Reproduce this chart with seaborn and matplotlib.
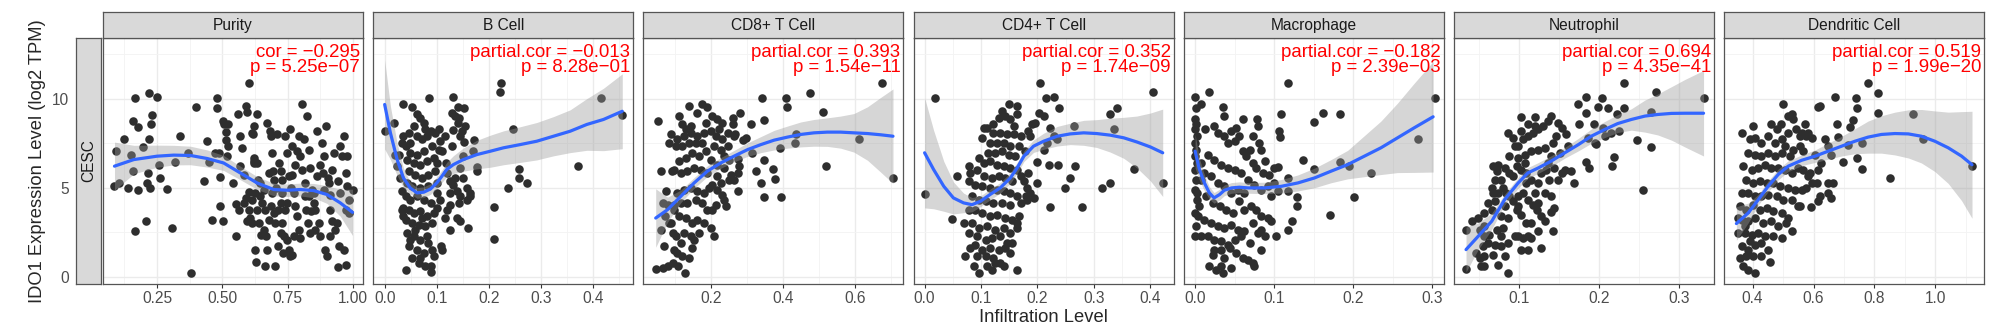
import matplotlib
matplotlib.use("Agg")
import matplotlib.pyplot as plt
from matplotlib.ticker import FixedLocator, AutoMinorLocator
import pandas as pd
import seaborn as sns

# values
cancer = "CESC"
cells = ["Purity", "B Cell", "CD8+ T Cell", "CD4+ T Cell", "Macrophage", "Neutrophil", "Dendritic Cell"]
stat_labels = [
    "cor = \u22120.295\np = 5.25e\u221207",
    "partial.cor = \u22120.013\np = 8.28e\u221201",
    "partial.cor = 0.393\np = 1.54e\u221211",
    "partial.cor = 0.352\np = 1.74e\u221209",
    "partial.cor = \u22120.182\np = 2.39e\u221203",
    "partial.cor = 0.694\np = 4.35e\u221241",
    "partial.cor = 0.519\np = 1.99e\u221220",
]
x_ticks = [
    [0.25, 0.5, 0.75, 1.0],
    [0.0, 0.1, 0.2, 0.3, 0.4],
    [0.2, 0.4, 0.6],
    [0.0, 0.1, 0.2, 0.3, 0.4],
    [0.0, 0.1, 0.2, 0.3],
    [0.1, 0.2, 0.3],
    [0.4, 0.6, 0.8, 1.0],
]
x_tick_labels = [
    ["0.25", "0.50", "0.75", "1.00"],
    ["0.0", "0.1", "0.2", "0.3", "0.4"],
    ["0.2", "0.4", "0.6"],
    ["0.0", "0.1", "0.2", "0.3", "0.4"],
    ["0.0", "0.1", "0.2", "0.3"],
    ["0.1", "0.2", "0.3"],
    ["0.4", "0.6", "0.8", "1.0"],
]
y_ticks = [0, 5, 10]
y_tick_labels = ["0", "5", "10"]

purity_pts = [
    (0.087, 5.13), (0.103, 5.28), (0.094, 7.06), (0.125, 7.77), (0.138, 5.0), (0.150, 6.87), (0.158, 5.94),
    (0.157, 8.73), (0.167, 10.02), (0.167, 2.57), (0.176, 4.87), (0.177, 8.43), (0.196, 7.30),
    (0.212, 5.28), (0.216, 5.81), (0.222, 5.0), (0.208, 3.16), (0.218, 10.34), (0.228, 8.56), (0.230, 9.08),
    (0.218, 7.72), (0.25, 10.09), (0.258, 6.31), (0.260, 5.56), (0.288, 4.94), (0.309, 2.75), (0.319, 6.48),
    (0.339, 7.90), (0.370, 6.98), (0.380, 0.22), (0.401, 9.53), (0.429, 5.41), (0.442, 7.66), (0.449, 6.46),
    (0.462, 3.20), (0.471, 6.97), (0.480, 10.02), (0.481, 9.49), (0.488, 6.98), (0.491, 5.60), (0.493, 4.01),
    (0.502, 3.16), (0.503, 8.78), (0.508, 8.60), (0.513, 8.13), (0.516, 7.68), (0.522, 8.56), (0.523, 7.34),
    (0.518, 6.78), (0.541, 5.28), (0.551, 2.32), (0.554, 4.12), (0.559, 9.16), (0.567, 7.90), (0.563, 3.78),
    (0.569, 6.22), (0.576, 7.25), (0.582, 5.75), (0.590, 9.59), (0.595, 9.25), (0.604, 10.86), (0.614, 8.09),
    (0.620, 6.69), (0.623, 6.50), (0.627, 1.54), (0.631, 0.82), (0.633, 9.12), (0.618, 8.0), (0.620, 8.46),
    (0.627, 4.72), (0.582, 4.16), (0.591, 4.44), (0.601, 3.78), (0.608, 3.31), (0.614, 3.03), (0.623, 6.40),
    (0.633, 6.40), (0.636, 5.47), (0.643, 5.28), (0.646, 4.53), (0.652, 4.16), (0.659, 4.91), (0.665, 3.78),
    (0.671, 8.65), (0.671, 1.54), (0.663, 0.60), (0.678, 5.84), (0.684, 8.18), (0.687, 7.90), (0.691, 6.97),
    (0.694, 5.94), (0.697, 5.47), (0.595, 3.13), (0.601, 4.78), (0.614, 4.34), (0.633, 3.78), (0.640, 3.03),
    (0.648, 2.38), (0.659, 2.66), (0.669, 2.28), (0.678, 3.22), (0.687, 3.97), (0.692, 4.72), (0.697, 3.60),
    (0.703, 0.60), (0.710, 8.0), (0.716, 6.40), (0.723, 5.94), (0.729, 3.03), (0.735, 2.28), (0.742, 7.90),
    (0.748, 6.97), (0.754, 5.66), (0.761, 8.28), (0.767, 7.34), (0.763, 4.97), (0.774, 4.72), (0.780, 3.97),
    (0.786, 3.41), (0.793, 2.66), (0.799, 2.19), (0.806, 9.68), (0.812, 7.72), (0.818, 5.28), (0.825, 9.03),
    (0.754, 1.54), (0.761, 1.16), (0.767, 1.25), (0.774, 2.28), (0.712, 1.72), (0.723, 4.16), (0.729, 4.72),
    (0.748, 4.16), (0.703, 3.03), (0.723, 2.47), (0.742, 3.78), (0.799, 6.78), (0.806, 6.03), (0.793, 7.90),
    (0.786, 7.06), (0.780, 6.31), (0.767, 5.75), (0.815, 4.53), (0.822, 3.78), (0.827, 3.03), (0.748, 2.10),
    (0.733, 1.35), (0.712, 3.78), (0.729, 5.47), (0.707, 5.0),
    (0.831, 7.15), (0.837, 6.12), (0.844, 4.91), (0.850, 4.16), (0.857, 3.78), (0.863, 8.18), (0.869, 3.03),
    (0.876, 2.28), (0.882, 7.53), (0.891, 6.78), (0.895, 1.54), (0.899, 8.46), (0.904, 5.56), (0.912, 4.62),
    (0.914, 3.78), (0.920, 3.13), (0.901, 1.16), (0.837, 2.47), (0.850, 4.72), (0.863, 5.66), (0.876, 6.31),
    (0.885, 5.84), (0.889, 4.91), (0.908, 5.28), (0.920, 6.03), (0.927, 6.97), (0.831, 4.53), (0.841, 3.69),
    (0.857, 2.66), (0.914, 2.28),
    (0.933, 2.66), (0.942, 5.41), (0.950, 4.72), (0.952, 7.34), (0.959, 6.78), (0.965, 7.90), (0.972, 3.78),
    (0.978, 5.09), (0.984, 4.34), (0.940, 3.03), (0.946, 1.72), (0.965, 1.54), (0.972, 0.69), (0.942, 0.56),
    (0.978, 6.78), (0.984, 3.60), (0.999, 4.87), (0.975, 5.84),
]

bcell_pts = [
    (0.0, 8.22), (0.020, 6.87), (0.017, 8.65), (0.035, 9.68), (0.052, 9.55), (0.086, 10.04), (0.131, 10.09),
    (0.140, 9.53), (0.153, 9.51), (0.129, 9.21), (0.135, 9.03), (0.140, 8.65), (0.155, 8.50), (0.132, 8.24),
    (0.145, 7.90), (0.153, 7.57), (0.171, 7.71), (0.169, 7.06), (0.177, 6.18), (0.177, 5.94), (0.224, 10.86),
    (0.222, 10.37), (0.246, 8.28), (0.258, 6.07), (0.257, 5.56), (0.274, 5.28), (0.236, 5.0), (0.210, 3.93),
    (0.210, 2.13), (0.372, 6.25), (0.415, 10.06), (0.456, 9.10),
    (0.107, 7.62), (0.110, 7.06), (0.118, 6.40), (0.119, 5.84), (0.125, 5.37), (0.132, 5.19), (0.139, 4.81),
    (0.145, 4.53), (0.151, 5.56), (0.158, 5.0), (0.164, 4.72), (0.164, 4.53), (0.158, 4.34), (0.142, 4.16),
    (0.126, 4.06), (0.119, 3.78), (0.116, 3.31), (0.126, 2.66), (0.139, 3.31), (0.145, 3.13), (0.159, 2.75),
    (0.108, 1.72), (0.110, 1.54), (0.091, 1.54), (0.094, 1.16), (0.088, 0.60), (0.126, 4.72), (0.135, 5.56),
    (0.144, 6.12), (0.151, 6.78), (0.129, 7.34), (0.116, 7.90), (0.142, 8.93), (0.148, 8.18),
    (0.062, 9.12), (0.068, 8.93), (0.075, 8.65), (0.078, 8.28), (0.056, 8.46), (0.046, 8.09), (0.036, 7.90),
    (0.033, 7.53), (0.040, 7.34), (0.049, 7.53), (0.062, 7.90), (0.071, 7.72), (0.081, 7.90), (0.088, 8.18),
    (0.097, 8.09), (0.104, 8.28), (0.091, 7.34), (0.075, 7.06), (0.062, 6.87), (0.049, 6.97), (0.043, 6.59),
    (0.056, 6.40), (0.068, 6.31), (0.081, 6.50), (0.094, 6.69), (0.100, 6.40), (0.104, 7.15), (0.046, 5.97),
    (0.059, 5.75), (0.071, 5.56), (0.084, 5.75), (0.097, 5.94), (0.043, 5.28), (0.052, 5.09), (0.068, 5.0),
    (0.084, 5.13), (0.100, 5.28), (0.040, 4.53), (0.049, 4.34), (0.062, 4.53), (0.075, 4.34), (0.088, 4.16),
    (0.100, 4.72), (0.036, 3.88), (0.046, 3.78), (0.056, 3.60), (0.068, 3.69), (0.081, 3.41), (0.094, 3.60),
    (0.040, 3.22), (0.052, 3.03), (0.065, 2.94), (0.078, 2.85), (0.091, 3.03), (0.043, 2.47), (0.056, 2.28),
    (0.068, 2.10), (0.081, 2.28), (0.046, 1.72), (0.062, 1.54), (0.075, 1.35), (0.084, 1.91), (0.052, 1.06),
    (0.065, 0.79), (0.078, 0.60), (0.040, 0.41), (0.088, 0.26), (0.068, 1.06), (0.059, 2.66), (0.049, 2.10),
    (0.072, 3.31), (0.036, 3.41), (0.100, 3.88), (0.033, 3.78), (0.107, 4.34), (0.027, 6.87), (0.024, 6.22),
    (0.030, 5.56), (0.033, 4.81),
]

cd8_pts = [
    (0.052, 8.75), (0.061, 5.94), (0.073, 4.81), (0.089, 5.94), (0.066, 4.16), (0.078, 4.06), (0.070, 3.41),
    (0.082, 3.03), (0.059, 2.66), (0.068, 1.72), (0.066, 0.51), (0.045, 0.47), (0.078, 0.64), (0.092, 0.79),
    (0.107, 0.64), (0.127, 0.22), (0.096, 1.54), (0.105, 1.35), (0.119, 1.16), (0.138, 1.07), (0.145, 1.63),
    (0.115, 1.91), (0.101, 2.28), (0.092, 2.47), (0.124, 2.47), (0.143, 2.28), (0.152, 2.10), (0.166, 2.47),
    (0.087, 3.03), (0.110, 3.41), (0.129, 3.31), (0.147, 3.03), (0.161, 3.22), (0.180, 3.03), (0.198, 2.75),
    (0.208, 2.28), (0.189, 3.78), (0.175, 4.16), (0.157, 4.34), (0.133, 4.16), (0.115, 4.16), (0.096, 3.78),
    (0.105, 4.72), (0.124, 4.91), (0.143, 5.0), (0.161, 4.81), (0.180, 4.72), (0.194, 5.0), (0.203, 5.19),
    (0.217, 4.91), (0.231, 4.63), (0.236, 4.34), (0.212, 4.06), (0.240, 3.97), (0.203, 3.78), (0.226, 5.28),
    (0.249, 5.47), (0.263, 5.47), (0.217, 5.66), (0.189, 5.84), (0.170, 6.03), (0.152, 6.12), (0.133, 5.94),
    (0.115, 5.84), (0.096, 6.03), (0.110, 6.50), (0.129, 6.69), (0.147, 6.97), (0.166, 6.78), (0.184, 7.06),
    (0.198, 6.59), (0.217, 6.31), (0.236, 6.78), (0.245, 7.34), (0.231, 7.72), (0.212, 7.90), (0.198, 8.18),
    (0.180, 8.09), (0.161, 7.90), (0.143, 8.09), (0.124, 7.90), (0.105, 7.72), (0.087, 8.0), (0.082, 7.53),
    (0.101, 7.34), (0.119, 7.34), (0.138, 7.53), (0.157, 7.53), (0.175, 7.53), (0.208, 7.34), (0.226, 7.15),
    (0.143, 8.46), (0.129, 8.28), (0.119, 8.56), (0.110, 9.03), (0.138, 9.59), (0.161, 9.21), (0.175, 9.68),
    (0.189, 9.55), (0.184, 8.65), (0.203, 9.03), (0.217, 8.84), (0.231, 8.65), (0.222, 8.28), (0.245, 8.09),
    (0.259, 8.56), (0.263, 7.90), (0.249, 6.59), (0.236, 6.12), (0.096, 4.06),
    (0.674, 10.90), (0.706, 5.56), (0.612, 7.72), (0.519, 6.25), (0.510, 9.25), (0.475, 10.34), (0.407, 10.06),
    (0.412, 9.53), (0.435, 8.03), (0.432, 7.53), (0.391, 7.25), (0.342, 10.02), (0.348, 8.80), (0.310, 8.61),
    (0.280, 9.18), (0.347, 6.59), (0.324, 5.97), (0.372, 6.07), (0.376, 5.51), (0.339, 5.28), (0.347, 4.49),
    (0.393, 4.49), (0.278, 6.22), (0.275, 6.65), (0.296, 7.81), (0.288, 7.68), (0.266, 8.03), (0.273, 5.84),
    (0.275, 4.85), (0.254, 5.75), (0.259, 8.93), (0.312, 6.97),
]

cd4_pts = [
    (0.149, 9.68), (0.163, 9.59), (0.137, 9.31), (0.131, 8.93), (0.143, 9.03), (0.152, 8.84), (0.158, 8.46),
    (0.164, 9.12), (0.122, 8.61), (0.111, 8.37), (0.105, 8.37), (0.122, 8.09), (0.134, 8.09), (0.146, 8.0),
    (0.158, 8.0), (0.170, 7.90), (0.102, 7.81), (0.116, 7.53), (0.128, 7.53), (0.140, 7.53), (0.152, 7.34),
    (0.167, 7.34), (0.178, 7.06), (0.187, 7.90), (0.190, 8.56), (0.184, 8.18), (0.196, 8.65), (0.113, 6.97),
    (0.125, 6.97), (0.137, 7.06), (0.149, 6.87), (0.161, 6.78), (0.096, 6.69), (0.105, 6.40), (0.116, 6.50),
    (0.128, 6.31), (0.140, 6.22), (0.152, 6.12), (0.164, 6.03), (0.081, 5.84), (0.093, 6.03), (0.105, 5.66),
    (0.119, 5.56), (0.131, 5.66), (0.143, 5.56), (0.155, 5.37), (0.170, 5.66), (0.078, 5.37), (0.090, 5.19),
    (0.102, 5.09), (0.116, 5.0), (0.128, 4.91), (0.140, 4.81), (0.152, 4.72), (0.164, 4.53), (0.179, 4.53),
    (0.084, 4.53), (0.096, 4.34), (0.108, 4.25), (0.122, 4.16), (0.137, 4.16), (0.152, 4.06), (0.078, 3.78),
    (0.090, 3.78), (0.102, 3.60), (0.116, 3.41), (0.128, 3.50), (0.143, 3.31), (0.155, 3.22), (0.069, 3.03),
    (0.084, 3.03), (0.096, 2.75), (0.111, 2.85), (0.125, 2.66), (0.140, 2.75), (0.152, 2.47), (0.164, 2.75),
    (0.078, 2.47), (0.093, 2.28), (0.108, 2.10), (0.119, 2.19), (0.134, 2.28), (0.146, 1.91), (0.090, 1.82),
    (0.102, 1.54), (0.116, 1.63), (0.131, 1.54), (0.143, 1.63), (0.081, 1.63), (0.093, 1.16), (0.108, 1.16),
    (0.122, 1.07), (0.134, 0.79), (0.087, 0.60), (0.096, 0.22), (0.111, 0.60), (0.125, 0.79), (0.140, 0.60),
    (0.119, 0.41),
    (0.0, 4.68), (0.019, 10.02), (0.048, 3.26), (0.057, 5.66), (0.078, 6.22), (0.072, 1.20), (0.205, 10.86),
    (0.216, 10.02), (0.229, 10.09), (0.239, 9.49), (0.202, 9.21), (0.211, 9.03), (0.223, 8.37), (0.235, 7.72),
    (0.199, 6.44), (0.220, 6.31), (0.237, 6.31), (0.267, 6.25), (0.258, 5.56), (0.249, 5.0), (0.223, 3.93),
    (0.279, 3.93), (0.314, 5.0), (0.328, 5.28), (0.328, 9.12), (0.341, 9.49), (0.335, 8.28), (0.372, 6.07),
    (0.405, 10.37), (0.422, 5.28), (0.264, 8.46), (0.184, 5.84), (0.176, 5.37), (0.181, 4.97), (0.187, 4.72),
    (0.181, 4.34), (0.170, 4.16), (0.167, 3.41), (0.164, 3.03), (0.163, 0.41), (0.155, 1.91), (0.152, 1.35),
    (0.193, 4.44), (0.199, 5.28), (0.211, 7.15), (0.217, 7.53), (0.229, 7.90),
]

macro_pts = [
    (0.0, 8.84), (0.001, 8.56), (0.0, 8.28), (0.002, 7.90), (0.0, 7.53), (0.001, 7.15), (0.0, 6.78),
    (0.002, 6.40), (0.0, 6.03), (0.001, 5.47), (0.0, 4.91), (0.002, 4.34), (0.0, 3.60), (0.001, 2.85),
    (0.0, 2.28), (0.003, 4.72),
    (0.012, 8.28), (0.024, 8.46), (0.029, 8.09), (0.037, 7.90), (0.041, 7.53), (0.050, 7.62), (0.056, 7.90),
    (0.060, 8.84), (0.052, 8.37), (0.046, 8.18), (0.073, 7.90), (0.081, 7.53), (0.083, 7.15), (0.078, 8.84),
    (0.079, 8.46), (0.060, 7.06), (0.064, 6.78), (0.069, 7.15), (0.073, 6.40), (0.077, 6.12), (0.086, 5.84),
    (0.094, 5.75), (0.088, 6.50), (0.100, 5.28), (0.092, 5.09), (0.083, 4.91), (0.075, 5.19), (0.067, 5.47),
    (0.058, 5.84), (0.050, 6.03), (0.041, 6.12), (0.033, 6.31), (0.024, 6.59), (0.016, 6.87), (0.0076, 6.40),
    (0.0118, 5.84), (0.020, 5.66), (0.029, 5.28), (0.037, 5.09), (0.046, 4.72), (0.054, 4.91), (0.062, 4.72),
    (0.0076, 5.47), (0.014, 4.53), (0.022, 4.16), (0.031, 3.97), (0.039, 3.78), (0.048, 3.60), (0.056, 4.25),
    (0.062, 3.78), (0.071, 3.97), (0.077, 3.78), (0.083, 3.41), (0.092, 3.31), (0.096, 3.13), (0.0055, 3.97),
    (0.0034, 3.41), (0.0118, 3.22), (0.020, 3.03), (0.029, 2.85), (0.037, 2.75), (0.046, 2.94), (0.054, 2.66),
    (0.062, 2.57), (0.073, 3.03), (0.083, 2.66), (0.0076, 2.28), (0.016, 2.28), (0.024, 2.10), (0.033, 2.00),
    (0.041, 1.82), (0.050, 2.10), (0.058, 2.28), (0.069, 1.91), (0.079, 2.47), (0.088, 2.28), (0.024, 1.54),
    (0.033, 1.54), (0.044, 1.63), (0.052, 1.35), (0.067, 0.97), (0.073, 0.79), (0.083, 1.54), (0.022, 1.25),
    (0.018, 0.60), (0.027, 0.41), (0.035, 0.22), (0.046, 0.51), (0.033, 0.60), (0.037, 1.07), (0.060, 1.07),
    (0.075, 0.60),
    (0.017, 10.37), (0.0, 10.09), (0.001, 9.49), (0.008, 9.68), (0.035, 9.55), (0.036, 9.06), (0.118, 10.86),
    (0.109, 9.16), (0.150, 8.71), (0.162, 9.21), (0.183, 9.12), (0.106, 8.18), (0.107, 7.85), (0.137, 6.55),
    (0.150, 6.07), (0.183, 6.44), (0.194, 6.25), (0.222, 5.84), (0.282, 7.72), (0.303, 10.02), (0.201, 4.49),
    (0.170, 3.50), (0.129, 4.49), (0.129, 4.01), (0.123, 3.13), (0.117, 2.66), (0.102, 2.32), (0.100, 6.12),
    (0.105, 6.16), (0.117, 5.56), (0.117, 4.81), (0.105, 4.81), (0.096, 4.53),
]

neutro_pts = [
    (0.034, 0.47), (0.034, 2.66), (0.041, 3.13), (0.047, 1.35), (0.051, 1.07), (0.053, 0.60), (0.057, 0.60),
    (0.055, 1.72), (0.061, 1.91), (0.063, 2.38), (0.057, 2.85), (0.051, 2.66), (0.049, 3.31), (0.057, 3.60),
    (0.066, 3.78), (0.061, 4.16), (0.070, 4.25), (0.074, 4.72), (0.068, 4.72), (0.066, 5.0), (0.070, 5.47),
    (0.072, 5.94), (0.068, 6.22), (0.074, 6.31), (0.082, 6.12), (0.078, 5.47), (0.080, 5.0), (0.084, 4.72),
    (0.088, 4.53), (0.082, 3.97), (0.078, 3.41), (0.086, 3.31), (0.080, 2.75), (0.072, 2.66), (0.070, 1.82),
    (0.078, 1.72), (0.082, 1.16), (0.068, 1.25), (0.095, 2.28), (0.099, 2.28), (0.105, 2.19), (0.111, 2.28),
    (0.115, 2.19), (0.124, 2.57), (0.109, 3.03), (0.103, 3.50), (0.097, 3.78), (0.092, 4.25), (0.099, 4.53),
    (0.105, 4.72), (0.111, 4.34), (0.117, 4.06), (0.122, 3.78), (0.128, 3.41), (0.132, 3.13), (0.120, 4.72),
    (0.124, 5.28), (0.115, 5.47), (0.109, 5.84), (0.103, 6.03), (0.097, 6.22), (0.092, 5.66), (0.088, 5.84),
    (0.099, 6.69), (0.107, 6.87), (0.115, 7.06), (0.124, 7.15), (0.132, 7.25), (0.099, 7.34), (0.105, 7.72),
    (0.111, 7.90), (0.117, 8.09), (0.124, 8.28), (0.130, 8.46), (0.136, 8.75), (0.111, 8.56), (0.120, 8.46),
    (0.103, 8.18), (0.092, 7.81), (0.095, 7.34), (0.107, 6.40), (0.128, 5.84), (0.134, 6.03), (0.138, 5.47),
    (0.132, 4.72), (0.124, 4.16), (0.140, 4.53), (0.115, 3.03), (0.103, 1.54), (0.111, 1.54), (0.078, 2.28),
    (0.057, 1.16), (0.099, 3.97), (0.109, 5.28), (0.136, 6.40), (0.140, 6.78), (0.144, 6.12), (0.149, 5.47),
    (0.153, 5.84), (0.146, 7.90), (0.142, 7.53), (0.151, 6.97), (0.057, 2.28), (0.086, 1.91),
    (0.231, 10.86), (0.271, 10.37), (0.331, 10.02), (0.183, 10.09), (0.203, 10.02), (0.174, 9.68), (0.198, 9.53),
    (0.211, 9.49), (0.231, 9.49), (0.184, 9.18), (0.222, 9.12), (0.264, 9.25), (0.175, 8.56), (0.194, 8.61),
    (0.205, 8.37), (0.215, 8.09), (0.224, 8.18), (0.247, 7.68), (0.265, 7.28), (0.219, 6.74), (0.216, 6.25),
    (0.184, 6.44), (0.187, 6.12), (0.255, 4.87), (0.196, 7.49), (0.207, 7.90), (0.195, 7.53), (0.186, 7.81),
    (0.157, 6.03), (0.165, 5.94), (0.169, 5.28), (0.149, 8.65), (0.140, 9.03), (0.153, 8.37), (0.159, 8.0),
    (0.161, 7.34), (0.144, 3.88), (0.142, 2.57), (0.140, 3.65), (0.128, 1.63), (0.103, 9.0), (0.120, 8.97),
    (0.086, 8.09), (0.088, 6.78), (0.074, 0.69), (0.086, 0.22),
]

dendritic_pts = [
    (0.364, 8.09), (0.402, 8.46), (0.391, 7.72), (0.408, 7.81), (0.429, 7.53), (0.451, 7.90), (0.462, 8.56),
    (0.479, 8.28), (0.493, 8.61), (0.501, 9.68), (0.517, 9.03), (0.528, 9.12), (0.533, 8.84), (0.544, 8.28),
    (0.561, 8.09), (0.572, 8.56), (0.577, 7.90), (0.555, 7.90), (0.517, 8.09), (0.495, 7.72), (0.473, 7.53),
    (0.506, 7.34), (0.533, 7.15), (0.555, 7.34), (0.566, 7.06), (0.522, 6.78), (0.495, 6.97), (0.473, 6.78),
    (0.451, 6.97), (0.429, 6.78), (0.408, 6.87), (0.386, 6.97), (0.369, 6.22), (0.397, 6.03), (0.419, 6.12),
    (0.440, 6.31), (0.462, 6.12), (0.484, 6.12), (0.506, 6.03), (0.528, 5.84), (0.550, 6.12), (0.566, 6.03),
    (0.583, 5.66), (0.380, 5.47), (0.402, 5.28), (0.424, 5.37), (0.446, 5.28), (0.468, 5.28), (0.490, 5.09),
    (0.517, 5.0), (0.539, 4.91), (0.561, 4.91), (0.577, 5.0), (0.364, 4.72), (0.386, 4.72), (0.408, 4.53),
    (0.429, 4.53), (0.451, 4.63), (0.479, 4.53), (0.501, 4.34), (0.528, 4.34), (0.550, 3.97), (0.358, 3.97),
    (0.380, 3.78), (0.402, 4.06), (0.424, 3.78), (0.446, 3.88), (0.468, 3.69), (0.495, 3.60), (0.517, 3.31),
    (0.364, 3.22), (0.386, 3.13), (0.408, 3.31), (0.435, 3.03), (0.462, 3.13), (0.484, 2.85), (0.511, 3.03),
    (0.528, 2.57), (0.353, 2.47), (0.375, 2.47), (0.397, 2.38), (0.419, 2.47), (0.440, 2.28), (0.468, 2.28),
    (0.495, 2.19), (0.451, 1.54), (0.364, 1.72), (0.386, 1.54), (0.408, 1.82), (0.429, 1.91), (0.380, 1.16),
    (0.402, 1.16), (0.358, 1.07), (0.369, 0.60), (0.386, 0.41), (0.408, 0.22), (0.457, 0.82), (0.429, 1.16),
    (0.391, 2.00), (0.375, 2.85), (0.353, 3.31),
    (0.779, 10.86), (0.810, 10.34), (0.810, 9.21), (0.739, 10.02), (0.743, 9.49), (0.670, 10.09), (0.615, 9.53),
    (0.621, 9.59), (0.676, 8.60), (0.719, 8.41), (0.730, 8.80), (0.681, 7.87), (0.758, 7.53), (0.697, 6.44),
    (0.744, 6.69), (0.760, 6.07), (0.928, 9.12), (0.959, 7.72), (0.851, 5.56), (1.120, 6.25), (0.714, 7.43),
    (0.637, 7.72), (0.648, 7.34), (0.659, 6.87), (0.626, 6.40), (0.615, 6.03), (0.588, 5.84), (0.594, 5.28),
    (0.610, 5.28), (0.648, 5.28), (0.665, 5.28), (0.648, 4.72), (0.659, 4.44), (0.621, 4.53), (0.615, 4.25),
    (0.591, 3.93), (0.555, 3.97), (0.605, 6.87), (0.594, 7.81), (0.583, 8.09),
]

# loess fit with its confidence band (x, fit, half width)
purity_fit_x = [0.087, 0.161, 0.25, 0.314, 0.378, 0.442, 0.505, 0.569, 0.633, 0.697, 0.748, 0.799, 0.850, 0.901, 0.952, 0.999]
purity_fit_y = [6.22, 6.59, 6.78, 6.84, 6.82, 6.65, 6.40, 5.84, 5.28, 4.91, 4.87, 4.91, 4.85, 4.63, 4.16, 3.63]
purity_fit_se = [1.35, 0.8, 0.62, 0.55, 0.52, 0.48, 0.42, 0.38, 0.36, 0.35, 0.35, 0.36, 0.40, 0.50, 0.75, 1.30]

bcell_fit_x = [0, 0.011, 0.024, 0.036, 0.049, 0.062, 0.075, 0.088, 0.100, 0.110, 0.119, 0.132, 0.151, 0.177, 0.203, 0.228, 0.260, 0.292, 0.324, 0.356, 0.388, 0.420, 0.456]
bcell_fit_y = [9.68, 8.09, 6.59, 5.56, 5.0, 4.72, 4.76, 4.94, 5.28, 5.66, 6.03, 6.31, 6.59, 6.87, 7.06, 7.25, 7.43, 7.62, 7.90, 8.18, 8.56, 8.84, 9.30]
bcell_fit_se = [2.5, 1.5, 0.9, 0.55, 0.32, 0.3, 0.3, 0.3, 0.32, 0.35, 0.4, 0.5, 0.65, 0.8, 0.9, 0.95, 1.0, 1.05, 1.1, 1.2, 1.45, 1.75, 2.1]

cd8_fit_x = [0.045, 0.078, 0.115, 0.152, 0.189, 0.226, 0.263, 0.301, 0.338, 0.375, 0.412, 0.449, 0.486, 0.523, 0.560, 0.597, 0.635, 0.672, 0.706]
cd8_fit_y = [3.31, 3.78, 4.53, 5.28, 5.94, 6.40, 6.78, 7.15, 7.43, 7.68, 7.85, 8.0, 8.09, 8.13, 8.13, 8.09, 8.05, 7.98, 7.90]
cd8_fit_se = [1.64, 0.7, 0.35, 0.3, 0.3, 0.3, 0.32, 0.38, 0.45, 0.55, 0.62, 0.7, 0.75, 0.8, 0.9, 1.08, 1.5, 2.1, 2.65]

cd4_fit_x = [0, 0.016, 0.034, 0.051, 0.069, 0.084, 0.099, 0.116, 0.134, 0.152, 0.164, 0.176, 0.193, 0.211, 0.235, 0.258, 0.282, 0.305, 0.329, 0.353, 0.376, 0.400, 0.422]
cd4_fit_y = [6.97, 6.03, 5.09, 4.44, 4.16, 4.06, 4.25, 4.63, 5.0, 5.56, 6.12, 6.78, 7.34, 7.62, 7.90, 8.03, 8.09, 8.05, 7.96, 7.81, 7.58, 7.30, 6.97]
cd4_fit_se = [3.09, 2.2, 1.4, 0.9, 0.55, 0.4, 0.3, 0.3, 0.3, 0.3, 0.3, 0.3, 0.35, 0.45, 0.55, 0.6, 0.7, 0.78, 0.95, 1.15, 1.45, 1.9, 2.45]

macro_fit_x = [0, 0.0055, 0.0118, 0.018, 0.024, 0.031, 0.037, 0.046, 0.056, 0.067, 0.088, 0.109, 0.130, 0.151, 0.172, 0.193, 0.214, 0.235, 0.256, 0.277, 0.301]
macro_fit_y = [7.06, 6.03, 5.28, 4.72, 4.44, 4.63, 4.87, 5.0, 5.04, 5.0, 5.0, 5.09, 5.28, 5.56, 5.94, 6.31, 6.78, 7.25, 7.81, 8.37, 8.99]
macro_fit_se = [0.94, 0.6, 0.45, 0.35, 0.3, 0.3, 0.3, 0.3, 0.3, 0.3, 0.32, 0.38, 0.45, 0.55, 0.65, 0.8, 1.15, 1.5, 1.95, 2.5, 3.1]

neutro_fit_x = [0.034, 0.049, 0.066, 0.082, 0.099, 0.111, 0.124, 0.140, 0.157, 0.174, 0.190, 0.207, 0.223, 0.240, 0.257, 0.273, 0.290, 0.307, 0.330]
neutro_fit_y = [1.54, 2.28, 3.13, 4.34, 5.28, 5.84, 6.12, 6.50, 6.97, 7.43, 7.90, 8.28, 8.61, 8.84, 9.03, 9.12, 9.18, 9.19, 9.19]
neutro_fit_se = [1.26, 0.75, 0.45, 0.3, 0.3, 0.3, 0.3, 0.3, 0.3, 0.35, 0.4, 0.45, 0.5, 0.6, 0.9, 1.15, 1.5, 1.9, 2.4]

dendritic_fit_x = [0.347, 0.386, 0.419, 0.451, 0.484, 0.517, 0.561, 0.605, 0.648, 0.692, 0.736, 0.779, 0.823, 0.867, 0.911, 0.954, 0.998, 1.042, 1.086, 1.120]
dendritic_fit_y = [3.0, 3.60, 4.34, 5.09, 5.75, 6.22, 6.55, 6.78, 7.06, 7.34, 7.62, 7.85, 8.0, 8.05, 8.03, 7.90, 7.62, 7.25, 6.78, 6.30]
dendritic_fit_se = [0.94, 0.55, 0.3, 0.3, 0.3, 0.3, 0.3, 0.35, 0.45, 0.55, 0.7, 0.9, 1.05, 1.2, 1.35, 1.5, 1.7, 2.0, 2.5, 3.0]

points = [purity_pts, bcell_pts, cd8_pts, cd4_pts, macro_pts, neutro_pts, dendritic_pts]
fits = [
    (purity_fit_x, purity_fit_y, purity_fit_se),
    (bcell_fit_x, bcell_fit_y, bcell_fit_se),
    (cd8_fit_x, cd8_fit_y, cd8_fit_se),
    (cd4_fit_x, cd4_fit_y, cd4_fit_se),
    (macro_fit_x, macro_fit_y, macro_fit_se),
    (neutro_fit_x, neutro_fit_y, neutro_fit_se),
    (dendritic_fit_x, dendritic_fit_y, dendritic_fit_se),
]

# axis ranges (ggplot default 5% padding around the data)
x_lims = [(0.043, 1.039), (-0.022, 0.477), (0.0107, 0.735), (-0.0195, 0.4413),
          (-0.0143, 0.3145), (0.019, 0.343), (0.307, 1.160)]
y_lim = (-0.39, 13.41)

sns.set_style("white")
plt.rcParams["font.family"] = ["Liberation Sans", "DejaVu Sans"]

W, H = 2008, 336
fig = plt.figure(figsize=(W / 100, H / 100), dpi=100)

border = "#555555"
panel_top, panel_bot = 38, 284
strip_top = 12
panel_w = 260

def frac(x0, y_top, w, h):
    return [x0 / W, 1 - (y_top + h) / H, w / W, h / H]

for i, cell in enumerate(cells):
    left = 103 + 270.2 * i
    ax = fig.add_axes(frac(left, panel_top, panel_w, panel_bot - panel_top))
    df = pd.DataFrame(points[i], columns=["x", "y"])
    sns.scatterplot(data=df, x="x", y="y", ax=ax, color="#2E2E2E", s=38,
                    linewidth=0, legend=False, zorder=2)
    fx, fy, fse = fits[i]
    fit = pd.DataFrame({"x": fx, "y": fy, "se": fse})
    ax.fill_between(fit["x"], fit["y"] - fit["se"], fit["y"] + fit["se"],
                    color="#999999", alpha=0.4, linewidth=0, zorder=3)
    sns.lineplot(data=fit, x="x", y="y", ax=ax, color="#3366FF", linewidth=2.3,
                 sort=False, estimator=None, zorder=4)
    ax.set_xlim(*x_lims[i])
    ax.set_ylim(*y_lim)
    ax.set_xlabel("")
    ax.set_ylabel("")
    ax.xaxis.set_major_locator(FixedLocator(x_ticks[i]))
    ax.set_xticklabels(x_tick_labels[i])
    ax.xaxis.set_minor_locator(AutoMinorLocator(2))
    ax.yaxis.set_major_locator(FixedLocator(y_ticks))
    ax.yaxis.set_minor_locator(AutoMinorLocator(2))
    ax.set_yticklabels([])
    ax.grid(which="major", color="#EBEBEB", linewidth=1.0, zorder=0)
    ax.grid(which="minor", color="#F3F3F3", linewidth=0.6, zorder=0)
    ax.set_axisbelow(True)
    ax.tick_params(axis="x", which="major", direction="out", length=3, width=0.8,
                   color="#333333", labelcolor="#4D4D4D", labelsize=11.2, pad=2.0, bottom=True)
    ax.tick_params(axis="y", which="both", length=0)
    ax.tick_params(axis="x", which="minor", length=0)
    for sp in ax.spines.values():
        sp.set_color(border)
        sp.set_linewidth(0.9)
    ax.text(1 - 3 / panel_w, 1 - 6 / (panel_bot - panel_top), stat_labels[i], transform=ax.transAxes,
            ha="right", va="top", color="#FF0000", fontsize=13.4, linespacing=0.88, zorder=5)

    sax = fig.add_axes(frac(left, strip_top, panel_w, panel_top - strip_top))
    sax.set_facecolor("#D9D9D9")
    sax.set_xticks([])
    sax.set_yticks([])
    for sp in sax.spines.values():
        sp.set_color(border)
        sp.set_linewidth(0.9)
    sax.text(0.5, 0.47, cell, transform=sax.transAxes, ha="center", va="center",
             fontsize=11.2, color="#1A1A1A")

# row strip with the y axis on its left
cax = fig.add_axes(frac(76, panel_top, 25, panel_bot - panel_top))
cax.set_facecolor("#D9D9D9")
cax.set_ylim(*y_lim)
cax.set_xticks([])
cax.yaxis.set_major_locator(FixedLocator(y_ticks))
cax.set_yticklabels(y_tick_labels)
cax.tick_params(axis="y", direction="out", length=3, width=0.8, color="#333333",
                labelcolor="#4D4D4D", labelsize=11.2, pad=2.0)
for sp in cax.spines.values():
    sp.set_color(border)
    sp.set_linewidth(0.9)
cax.text(0.5, 0.5, cancer, transform=cax.transAxes, rotation=90, ha="center", va="center",
         fontsize=11.2, color="#1A1A1A")

fig.text(1043 / W, 1 - 318 / H, "Infiltration Level", ha="center", va="center", fontsize=13.2)
fig.text(38 / W, 1 - 161 / H, "IDO1 Expression Level (log2 TPM)", rotation=90,
         ha="center", va="center", fontsize=13.2)

fig.savefig("out.png", dpi=100)
